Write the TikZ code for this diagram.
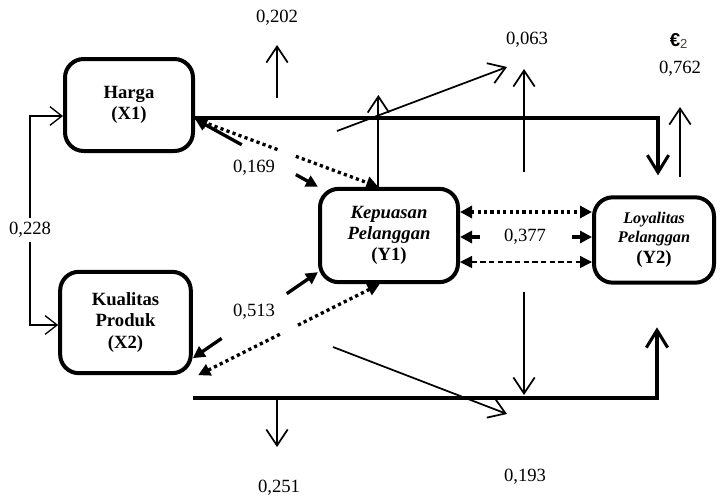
\documentclass[tikz,border=0pt]{standalone}
\usepackage{fontspec}
\setmainfont{Liberation Serif}
\newfontfamily\epsfont{Liberation Sans}
\usetikzlibrary{arrows.meta,calc}
\definecolor{epsgray}{RGB}{70,65,60}

\begin{document}
\begin{tikzpicture}[x=0.75pt,y=-0.75pt,>={Straight Barb[length=12pt,width=16pt]},font=\fontsize{14}{16}\selectfont]
		\tikzset{fat/.tip={Triangle[length=9pt,width=9pt]}}
		\tikzstyle{box} = [rectangle, draw, line width=3pt, rounded corners=14pt, align=center, inner sep=0pt, font=\fontsize{14}{16}\selectfont\bfseries]
		\tikzstyle{arr} = [->, line width=1.3pt]
		\tikzstyle{thinarr} = [->, line width=1pt, >={Straight Barb[length=9pt,width=14pt]}]
		\tikzstyle{thickarr} = [->, line width=2.3pt, >={Straight Barb[length=13pt,width=16pt]}]
		\tikzstyle{stub} = [-fat, line width=2.5pt]
		\tikzstyle{dotline} = [-fat, line width=2.5pt, dash pattern=on 2.4pt off 2.4pt]
		\tikzstyle{dashline} = [fat-fat, line width=1pt, dash pattern=on 4pt off 2.5pt]
		\useasboundingbox (0,0) rectangle (721,497);
		% konstruk
		\node[box, minimum width=96pt, minimum height=69pt] (harga) at (129,105) {Harga\\(X1)};
		\node[box, minimum width=98pt, minimum height=76pt] (kualitas) at (125.5,322.5) {Kualitas\\Produk\\(X2)};
		\node[box, minimum width=103.5pt, minimum height=70pt] (kepuasan) at (389,235.5) {\textit{Kepuasan}\\\textit{Pelanggan}\\(Y1)};
		\node[box, minimum width=90pt, minimum height=64pt, font=\fontsize{12.2}{14.3}\selectfont\bfseries] (loyalitas) at (654,240) {\textit{Loyalitas}\\\textit{Pelanggan}\\[1.5pt]{\fontsize{14}{16}\selectfont (Y2)}};
		% koefisien
		\node (r0) at (30,230) {0,228};
		\node (r1) at (277,18) {0,202};
		\node (r2) at (254,168) {0,169};
		\node (r3) at (254,312) {0,513};
		\node (r4) at (527,40) {0,063};
		\node (r5) at (680,69) {0,762};
		\node (eps) at (679,41) {{\epsfont\bfseries €}\textsubscript{\color{epsgray}\epsfont 2}};
		\node (r6) at (525,237) {0,377};
		\node (r7) at (279,488) {0,251};
		\node (r8) at (525,477) {0,193};
		% titik bantu
		\coordinate (h1) at ([yshift=-10.5pt]harga.east);
		\coordinate (k1) at (kepuasan.north west);
		\coordinate (k2) at ([xshift=-8pt]kepuasan.north);
		\coordinate (q1) at ([yshift=12.75pt]kualitas.south east);
		\coordinate (k3) at ([yshift=9pt]kepuasan.south west);
		\coordinate (k4) at ([xshift=-7pt]kepuasan.south);
		\coordinate (q2) at ([xshift=4pt]kualitas.south east);
		% korelasi X1 X2
		\draw[thinarr] (r0.north) |- (harga.west |- 0,116);
		\draw[thinarr] (r0.south) |- (kualitas.west |- 0,325);
		% jalur utama
		\draw[thickarr, shorten >=15pt] (harga.east |- 0,118) -| (loyalitas.north -| 658,0);
		\draw[thickarr, shorten >=32pt] (kualitas.east |- 0,398) -| (loyalitas.south -| 657,0);
		\draw[stub] ($(h1)!0.38!(k1)$) -- (h1);
		\draw[stub] ($(h1)!0.82!(k1)$) -- (k1);
		\draw[stub] ($(q1)!0.23!(k3)$) -- (q1);
		\draw[stub] ($(q1)!0.75!(k3)$) -- (k3);
		\draw[dotline] ($(k2)!0.45!(h1)$) -- (k2);
		\draw[dotline] ($(k2)!0.55!(h1)$) -- (h1);
		\draw[dotline] ($(k4)!0.45!(q2)$) -- (k4);
		\draw[dotline] ($(k4)!0.55!(q2)$) -- (q2);
		% Y1 - Y2
		\draw[dotline, fat-fat] (kepuasan.east |- 0,212) -- (loyalitas.west |- 0,212);
		\draw[stub] (kepuasan.east |- r6) ++(15pt,0) -- (kepuasan.east |- r6);
		\draw[stub] (loyalitas.west |- r6) ++(-15pt,0) -- (loyalitas.west |- r6);
		\draw[dashline] (kepuasan.east |- 0,262) -- (loyalitas.west |- 0,262);
		% panah sisa
		\draw[arr] (277,98) -- (277,45);
		\draw[arr] (k2) -- (k2 |- 0,95);
		\draw[arr] (337,131) -- (507,67);
		\draw[arr] (524,172) -- (524,69);
		\draw[arr] (680,177) -- (680,107);
		\draw[arr] (277,398) -- (277,447);
		\draw[arr] (524,292) -- (524,395);
		\draw[arr] (333,347) -- (507,414);
	\end{tikzpicture}
\end{document}
